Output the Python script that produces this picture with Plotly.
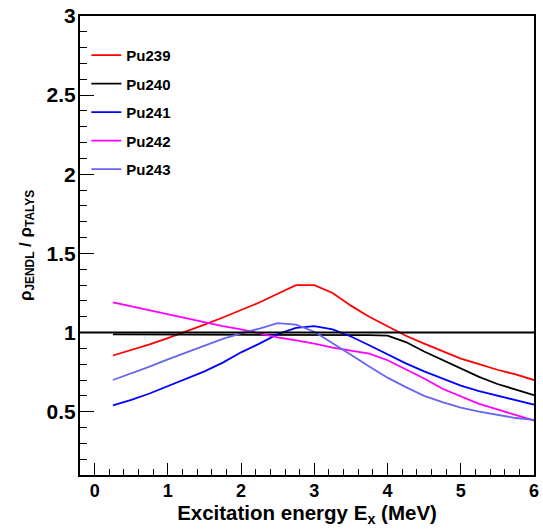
import plotly.graph_objects as go

# Excitation energy grid (MeV)
energy = [0.25, 0.5, 0.75, 1.0, 1.25, 1.5, 1.75, 2.0, 2.25, 2.5, 2.75, 3.0,
          3.25, 3.5, 3.75, 4.0, 4.25, 4.5, 4.75, 5.0, 5.25, 5.5, 5.75, 6.0]

pu239 = [0.855, 0.89, 0.925, 0.965, 1.005, 1.05, 1.095, 1.14, 1.19, 1.245, 1.30, 1.30,
         1.25, 1.17, 1.10, 1.04, 0.98, 0.93, 0.88, 0.835, 0.80, 0.765, 0.735, 0.70]
pu240 = [0.988, 0.988, 0.988, 0.988, 0.988, 0.988, 0.988, 0.988, 0.988, 0.988, 0.987, 0.987,
         0.986, 0.985, 0.984, 0.98, 0.94, 0.88, 0.825, 0.77, 0.72, 0.675, 0.64, 0.605]
pu241 = [0.54, 0.575, 0.615, 0.66, 0.705, 0.755, 0.81, 0.875, 0.93, 0.99, 1.03, 1.04,
         1.02, 0.975, 0.92, 0.86, 0.805, 0.755, 0.71, 0.665, 0.63, 0.60, 0.57, 0.544]
pu242 = [1.19, 1.165, 1.14, 1.115, 1.09, 1.065, 1.04, 1.02, 0.995, 0.97, 0.95, 0.93,
         0.905, 0.885, 0.867, 0.825, 0.77, 0.71, 0.645, 0.595, 0.55, 0.515, 0.48, 0.444]
pu243 = [0.70, 0.74, 0.785, 0.83, 0.875, 0.92, 0.96, 0.995, 1.025, 1.06, 1.05, 1.005,
         0.935, 0.86, 0.785, 0.715, 0.655, 0.60, 0.56, 0.525, 0.50, 0.48, 0.46, 0.448]

names = ["Pu239", "Pu240", "Pu241", "Pu242", "Pu243"]
series = [pu239, pu240, pu241, pu242, pu243]
colors = ["#ff0000", "#000000", "#0000ff", "#ff00ff", "#6666ee"]

reference_level = 1.0
x_range = [-0.2, 6.0]
y_range = [0.1, 3.0]

FONT = "Liberation Sans, Arial, Helvetica, sans-serif"

fig = go.Figure()
for name, ys, col in zip(names, series, colors):
    fig.add_trace(go.Scatter(
        x=energy, y=ys, mode="lines", name=name, legendgroup=name,
        line=dict(color=col, width=1.8),
    ))

fig.add_shape(type="line", xref="paper", yref="y", x0=0, x1=1,
              y0=reference_level, y1=reference_level,
              line=dict(color="black", width=2))

fig.update_layout(
    width=543, height=529,
    margin=dict(l=80, r=4, t=13, b=54),
    paper_bgcolor="white", plot_bgcolor="white",
    font=dict(family=FONT, color="black", weight="bold"),
    showlegend=True,
    legend=dict(
        x=0.014, y=0.95, xanchor="left", yanchor="top",
        bgcolor="rgba(0,0,0,0)", borderwidth=0,
        font=dict(family=FONT, size=15, color="black", weight="bold"),
        tracegroupgap=6, itemwidth=30,
    ),
    xaxis=dict(
        range=x_range, tickmode="linear", tick0=0, dtick=1,
        ticks="inside", ticklen=12, tickwidth=1, tickcolor="black",
        showline=True, linecolor="black", linewidth=2, mirror=True,
        showgrid=False, zeroline=False,
        tickfont=dict(family=FONT, size=18, weight="bold"),
        ticklabelstandoff=-2,
        minor=dict(ticks="inside", ticklen=6, tick0=0, dtick=0.2, tickcolor="black", showgrid=False),
        title=dict(text="Excitation energy E<sub>x</sub> (MeV)", standoff=0,
                   font=dict(family=FONT, size=20.5, weight="bold")),
    ),
    yaxis=dict(
        range=y_range, tickmode="linear", tick0=0, dtick=0.5,
        ticks="inside", ticklen=14, tickwidth=1, tickcolor="black",
        showline=True, linecolor="black", linewidth=2, mirror=True,
        showgrid=False, zeroline=False,
        tickfont=dict(family=FONT, size=21, weight="bold"),
        ticklabelstandoff=-2,
        minor=dict(ticks="inside", ticklen=7, tick0=0, dtick=0.1, tickcolor="black", showgrid=False),
        title=dict(text="ρ<sub>JENDL</sub> / ρ<sub>TALYS</sub>", standoff=11,
                   font=dict(family=FONT, size=17, weight="bold")),
    ),
)

fig.write_html("out.html")
